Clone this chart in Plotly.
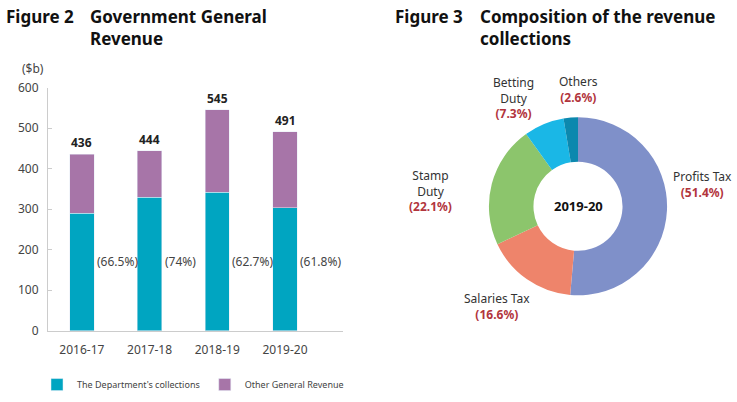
import plotly.graph_objects as go

years = ["2016-17", "2017-18", "2018-19", "2019-20"]
dept = [290, 329, 342, 303]
other = [146, 115, 203, 188]
totals = [436, 444, 545, 491]
dept_share = ["(66.5%)", "(74%)", "(62.7%)", "(61.8%)"]
y_ticks = [0, 100, 200, 300, 400, 500, 600]

pie_labels = ["Profits Tax", "Salaries Tax", "Stamp Duty", "Betting Duty", "Others"]
pie_label_text = ["Profits Tax", "Salaries Tax", "Stamp<br>Duty", "Betting<br>Duty", "Others"]
pie_values = [51.4, 16.6, 22.1, 7.3, 2.6]
pie_colors = ["#7F90C9", "#EE846B", "#8CC56C", "#1AB7E6", "#0C88AE"]

FONT = "Noto Sans"
W, H = 737, 402

fig = go.Figure()
fig.add_trace(go.Bar(x=years, y=dept, name="The Department's collections",
                     marker_color="#00A5C1", width=0.36))
fig.add_trace(go.Bar(x=years, y=other, name="Other General Revenue",
                     marker_color="#A775A8", width=0.36))

fig.add_trace(go.Pie(labels=pie_labels, values=pie_values, hole=0.5, sort=False,
                     direction="clockwise", rotation=0, textinfo="none",
                     marker=dict(colors=pie_colors, line=dict(width=0)),
                     showlegend=False,
                     domain=dict(x=[485 / W, 671 / W], y=[1 - 299 / H, 1 - 113 / H])))

ann = []
for yr, t in zip(years, totals):
    ann.append(dict(x=yr, y=t, xref="x", yref="y", text=f"<b>{t}</b>", showarrow=False,
                    yanchor="bottom", yshift=1, font=dict(size=12, color="#222", family=FONT)))
for yr, s in zip(years, dept_share):
    ann.append(dict(x=yr, y=170, xref="x", yref="y", text=s, showarrow=False,
                    xanchor="left", yanchor="middle", xshift=13,
                    font=dict(size=12, color="#444", family=FONT)))

ann.append(dict(x=20 / W, y=1 - 62 / H, xref="paper", yref="paper", text="($b)", showarrow=False,
                xanchor="left", yanchor="middle", font=dict(size=12, color="#444", family=FONT)))

# titles
tf = dict(size=17, color="#111", family=FONT)
def title(x, shift, txt):
    return dict(x=x / W, y=1, xref="paper", yref="paper", text=txt, yshift=shift,
                showarrow=False, xanchor="left", yanchor="top", align="left", font=tf)
ann += [
    title(4, 6, "<b>Figure 2</b>"),
    title(88, 6, "<b>Government General</b><br><b>Revenue</b>"),
    title(393, 6, "<b>Figure 3</b>"),
    title(478, 6, "<b>Composition of the revenue</b><br><b>collections</b>"),
]

ann.append(dict(x=578 / W, y=1 - 206 / H, xref="paper", yref="paper", text="<b>2019-20</b>",
                showarrow=False, xanchor="center", yanchor="middle",
                font=dict(size=13, color="#111", family=FONT)))

# pie labels (position in pixels, centre of the text block)
pos = [(702, 183), (497, 311), (430, 190), (513, 93), (578, 84)]
for (px, py), name, v in zip(pos, pie_label_text, pie_values):
    ann.append(dict(x=px / W, y=1 - py / H, xref="paper", yref="paper",
                    text=f"{name}<br><b><span style='color:#B2353D'>({v}%)</span></b>",
                    showarrow=False, align="center", xanchor="center", yanchor="middle",
                    font=dict(size=12, color="#333", family=FONT)))

fig.update_layout(
    width=W, height=H, margin=dict(l=0, r=0, t=0, b=0),
    paper_bgcolor="white", plot_bgcolor="white",
    barmode="stack",
    font=dict(family=FONT, color="#444"),
    xaxis=dict(domain=[48 / W, 343 / W], showline=True, linecolor="#CCCCCC", linewidth=1,
               tickfont=dict(size=12, color="#444"), ticks="", showgrid=False,
               ticklabelstandoff=8),
    yaxis=dict(domain=[1 - 336 / H, 1 - 82 / H], range=[0, 600], tickvals=y_ticks,
               showline=True, linecolor="#CCCCCC", linewidth=1, ticks="inside", ticklen=4,
               tickcolor="#CCCCCC", showgrid=False, zeroline=False,
               tickfont=dict(size=12, color="#444"), ticklabelstandoff=6),
    legend=dict(orientation="h", x=37 / W, y=1 - 377 / H, xanchor="left", yanchor="top",
                font=dict(size=9, color="#444"), itemwidth=30, traceorder="normal"),
    annotations=ann,
)

fig.write_html("out.html")
